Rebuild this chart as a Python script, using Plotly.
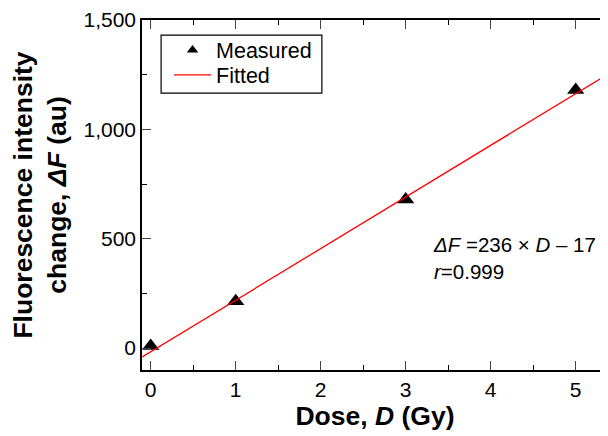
import plotly.graph_objects as go

dose = [0, 1, 3, 5]
measured = [10, 214, 680, 1180]
slope = 236
intercept = -17
fit_x = [-0.1, 5.4]
fit_y = [slope * x + intercept for x in fit_x]

fig = go.Figure()
fig.add_trace(go.Scatter(x=dose, y=measured, mode="markers", name="Measured", showlegend=False,
                         marker=dict(symbol="triangle-up", size=15, color="black")))
fig.add_trace(go.Scatter(x=[None], y=[None], mode="markers", name="Measured", legend="legend",
                         marker=dict(symbol="triangle-up", size=10, color="black")))
fig.add_trace(go.Scatter(x=fit_x, y=fit_y, mode="lines", name="Fitted", legend="legend2",
                         line=dict(color="red", width=1.3)))

fig.add_annotation(x=0.62, y=0.321, xref="paper", yref="paper", xanchor="left", yanchor="middle",
                   text="<i>ΔF</i> =236 × <i>D</i> – 17<br><i>r</i>=0.999", align="left",
                   showarrow=False, font=dict(size=20.5, color="black"))

# legend frame
fig.add_shape(type="rect", xref="paper", yref="paper", x0=0.041, x1=0.386, y0=0.791, y1=0.957,
              line=dict(color="black", width=1.2), fillcolor="rgba(0,0,0,0)", layer="above")

leg_common = dict(xanchor="left", yanchor="middle", borderwidth=0, bgcolor="rgba(0,0,0,0)",
                  font=dict(size=21.5), itemwidth=37)

fig.update_layout(
    width=600, height=428,
    margin=dict(l=134, r=0, t=12, b=66),
    plot_bgcolor="white", paper_bgcolor="white",
    font=dict(family="Liberation Sans, Arial", size=20, color="black"),
    showlegend=True,
    legend=dict(x=0.058, y=0.914, **leg_common),
    legend2=dict(x=0.058, y=0.843, **leg_common),
    xaxis=dict(range=[-0.1024, 5.38], tickvals=[0, 1, 2, 3, 4, 5], ticks="inside", ticklen=9,
               showline=True, linecolor="black", linewidth=1.5, mirror="ticks",
               showgrid=False, zeroline=False, automargin=False,
               tickfont=dict(size=21),
               minor=dict(ticks="inside", dtick=0.5, ticklen=5, tickcolor="black"),
               title=dict(text="<b>Dose, <i>D</i> (Gy)</b>", font=dict(size=26.5), standoff=0)),
    yaxis=dict(range=[-100, 1500], tickvals=[0, 500, 1000, 1500], tickformat=",", ticks="inside", ticklen=9,
               showline=True, linecolor="black", linewidth=1.5, mirror=False,
               showgrid=False, zeroline=False, automargin=False,
               tickfont=dict(size=21),
               minor=dict(ticks="inside", dtick=250, ticklen=5, tickcolor="black"),
               title=dict(text="<b>Fluorescence intensity<br>change, <i>ΔF</i> (au)</b>", font=dict(size=26.5), standoff=15)),
)
fig.write_html("out.html")
